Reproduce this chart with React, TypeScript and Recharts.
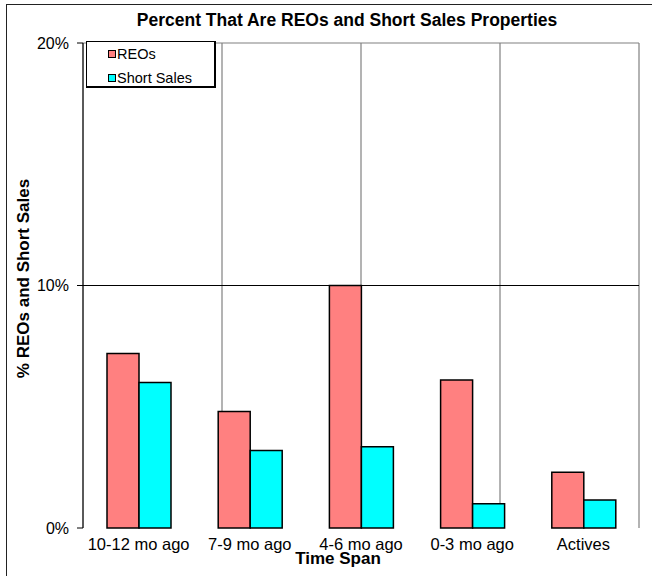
import { Bar, BarChart, CartesianGrid, Label, Legend, ReferenceLine, XAxis, YAxis } from "recharts";

const categories = ["10-12 mo ago", "7-9 mo ago", "4-6 mo ago", "0-3 mo ago", "Actives"];
const reos = [7.2, 4.8, 10.0, 6.1, 2.3];
const shortSales = [6.0, 3.2, 3.35, 1.0, 1.15];
const yTicks = [0, 10, 20];
const boundaryTicks = [0, 1, 2, 3, 4, 5];

const FONT = "'Liberation Sans', Arial, sans-serif";
const REO_COLOR = "#ff8080";
const SS_COLOR = "#00ffff";

const data = categories.map((name, i) => ({
    name,
    reo: reos[i],
    ss: shortSales[i],
}));

const LegendBox = ({ payload }: any) => (
    <div
        style={{
            border: "1px solid #000",
            borderRightWidth: 2,
            borderBottomWidth: 2,
            background: "#fff",
            width: 106,
            height: 44,
            padding: "0 0 0 21px",
            fontFamily: FONT,
            fontSize: 14.5,
            color: "#000",
        }}
    >
        {(payload ?? []).map((p: any) => (
            <div key={p.value} style={{ display: "flex", alignItems: "center", height: 24 }}>
                <span
                    style={{
                        display: "inline-block",
                        width: 6,
                        height: 6,
                        border: "1px solid #000",
                        background: p.color,
                        marginRight: 1,
                    }}
                />
                {p.value}
            </div>
        ))}
    </div>
);

const App = () => {
    return (
        <div style={{ position: "absolute", left: 0, top: 0, width: 652, height: 576, background: "#fff", fontFamily: FONT }}>
            <div
                style={{
                    position: "absolute",
                    left: 6,
                    top: 4,
                    right: 0,
                    bottom: 0,
                    borderTop: "1.5px solid #222",
                    borderLeft: "1.5px solid #222",
                }}
            />
            <div
                style={{
                    position: "absolute",
                    left: 42,
                    width: 610,
                    top: 10,
                    lineHeight: "20px",
                    textAlign: "center",
                    fontWeight: "bold",
                    fontSize: 17.5,
                }}
            >
                Percent That Are REOs and Short Sales Properties
            </div>
            <BarChart
                width={652}
                height={576}
                data={data}
                margin={{ top: 43, right: 13, bottom: 0, left: 0 }}
                barSize={32}
                barGap={0}
                style={{ position: "absolute", left: 0, top: 0 }}
            >
                <CartesianGrid horizontal={false} stroke="#808080" strokeWidth={1.2} />
                <XAxis
                    xAxisId={0}
                    type="number"
                    domain={[0, 5]}
                    ticks={boundaryTicks}
                    height={0}
                    tickFormatter={() => ""}
                    tickSize={6}
                    stroke="#808080"
                />
                <XAxis
                    xAxisId="cat"
                    dataKey="name"
                    height={48}
                    axisLine={false}
                    tickLine={false}
                    tickMargin={4}
                    tick={{ fill: "#000", fontSize: 16.5, fontFamily: FONT }}
                    interval={0}
                >
                    <Label
                        value="Time Span"
                        position="center"
                        dx={-23}
                        dy={6}
                        style={{ fontWeight: "bold", fontSize: 17, fill: "#000", fontFamily: FONT }}
                    />
                </XAxis>
                <YAxis
                    width={83}
                    domain={[0, 20]}
                    ticks={yTicks}
                    tickFormatter={(v) => `${v}%`}
                    tickSize={6}
                    tickMargin={8}
                    stroke="#000"
                    tick={{ fill: "#000", fontSize: 16, fontFamily: FONT }}
                >
                    <Label
                        value="% REOs and Short Sales"
                        position="center"
                        angle={-90}
                        dx={-19}
                        dy={-7}
                        style={{ fontWeight: "bold", fontSize: 17, fill: "#000", fontFamily: FONT, textAnchor: "middle" }}
                    />
                </YAxis>
                <ReferenceLine y={10} stroke="#000" strokeWidth={1.2} />
                <ReferenceLine y={20} stroke="#808080" strokeWidth={1.2} />
                <Legend
                    layout="vertical"
                    align="center"
                    verticalAlign="middle"
                    content={<LegendBox />}
                    wrapperStyle={{ left: 86, top: 41, width: "auto" }}
                />
                <Bar xAxisId="cat" dataKey="reo" name="REOs" fill={REO_COLOR} stroke="#000" strokeWidth={1.5} isAnimationActive={false} />
                <Bar xAxisId="cat" dataKey="ss" name="Short Sales" fill={SS_COLOR} stroke="#000" strokeWidth={1.5} isAnimationActive={false} />
            </BarChart>
        </div>
    );
};

export default App;
